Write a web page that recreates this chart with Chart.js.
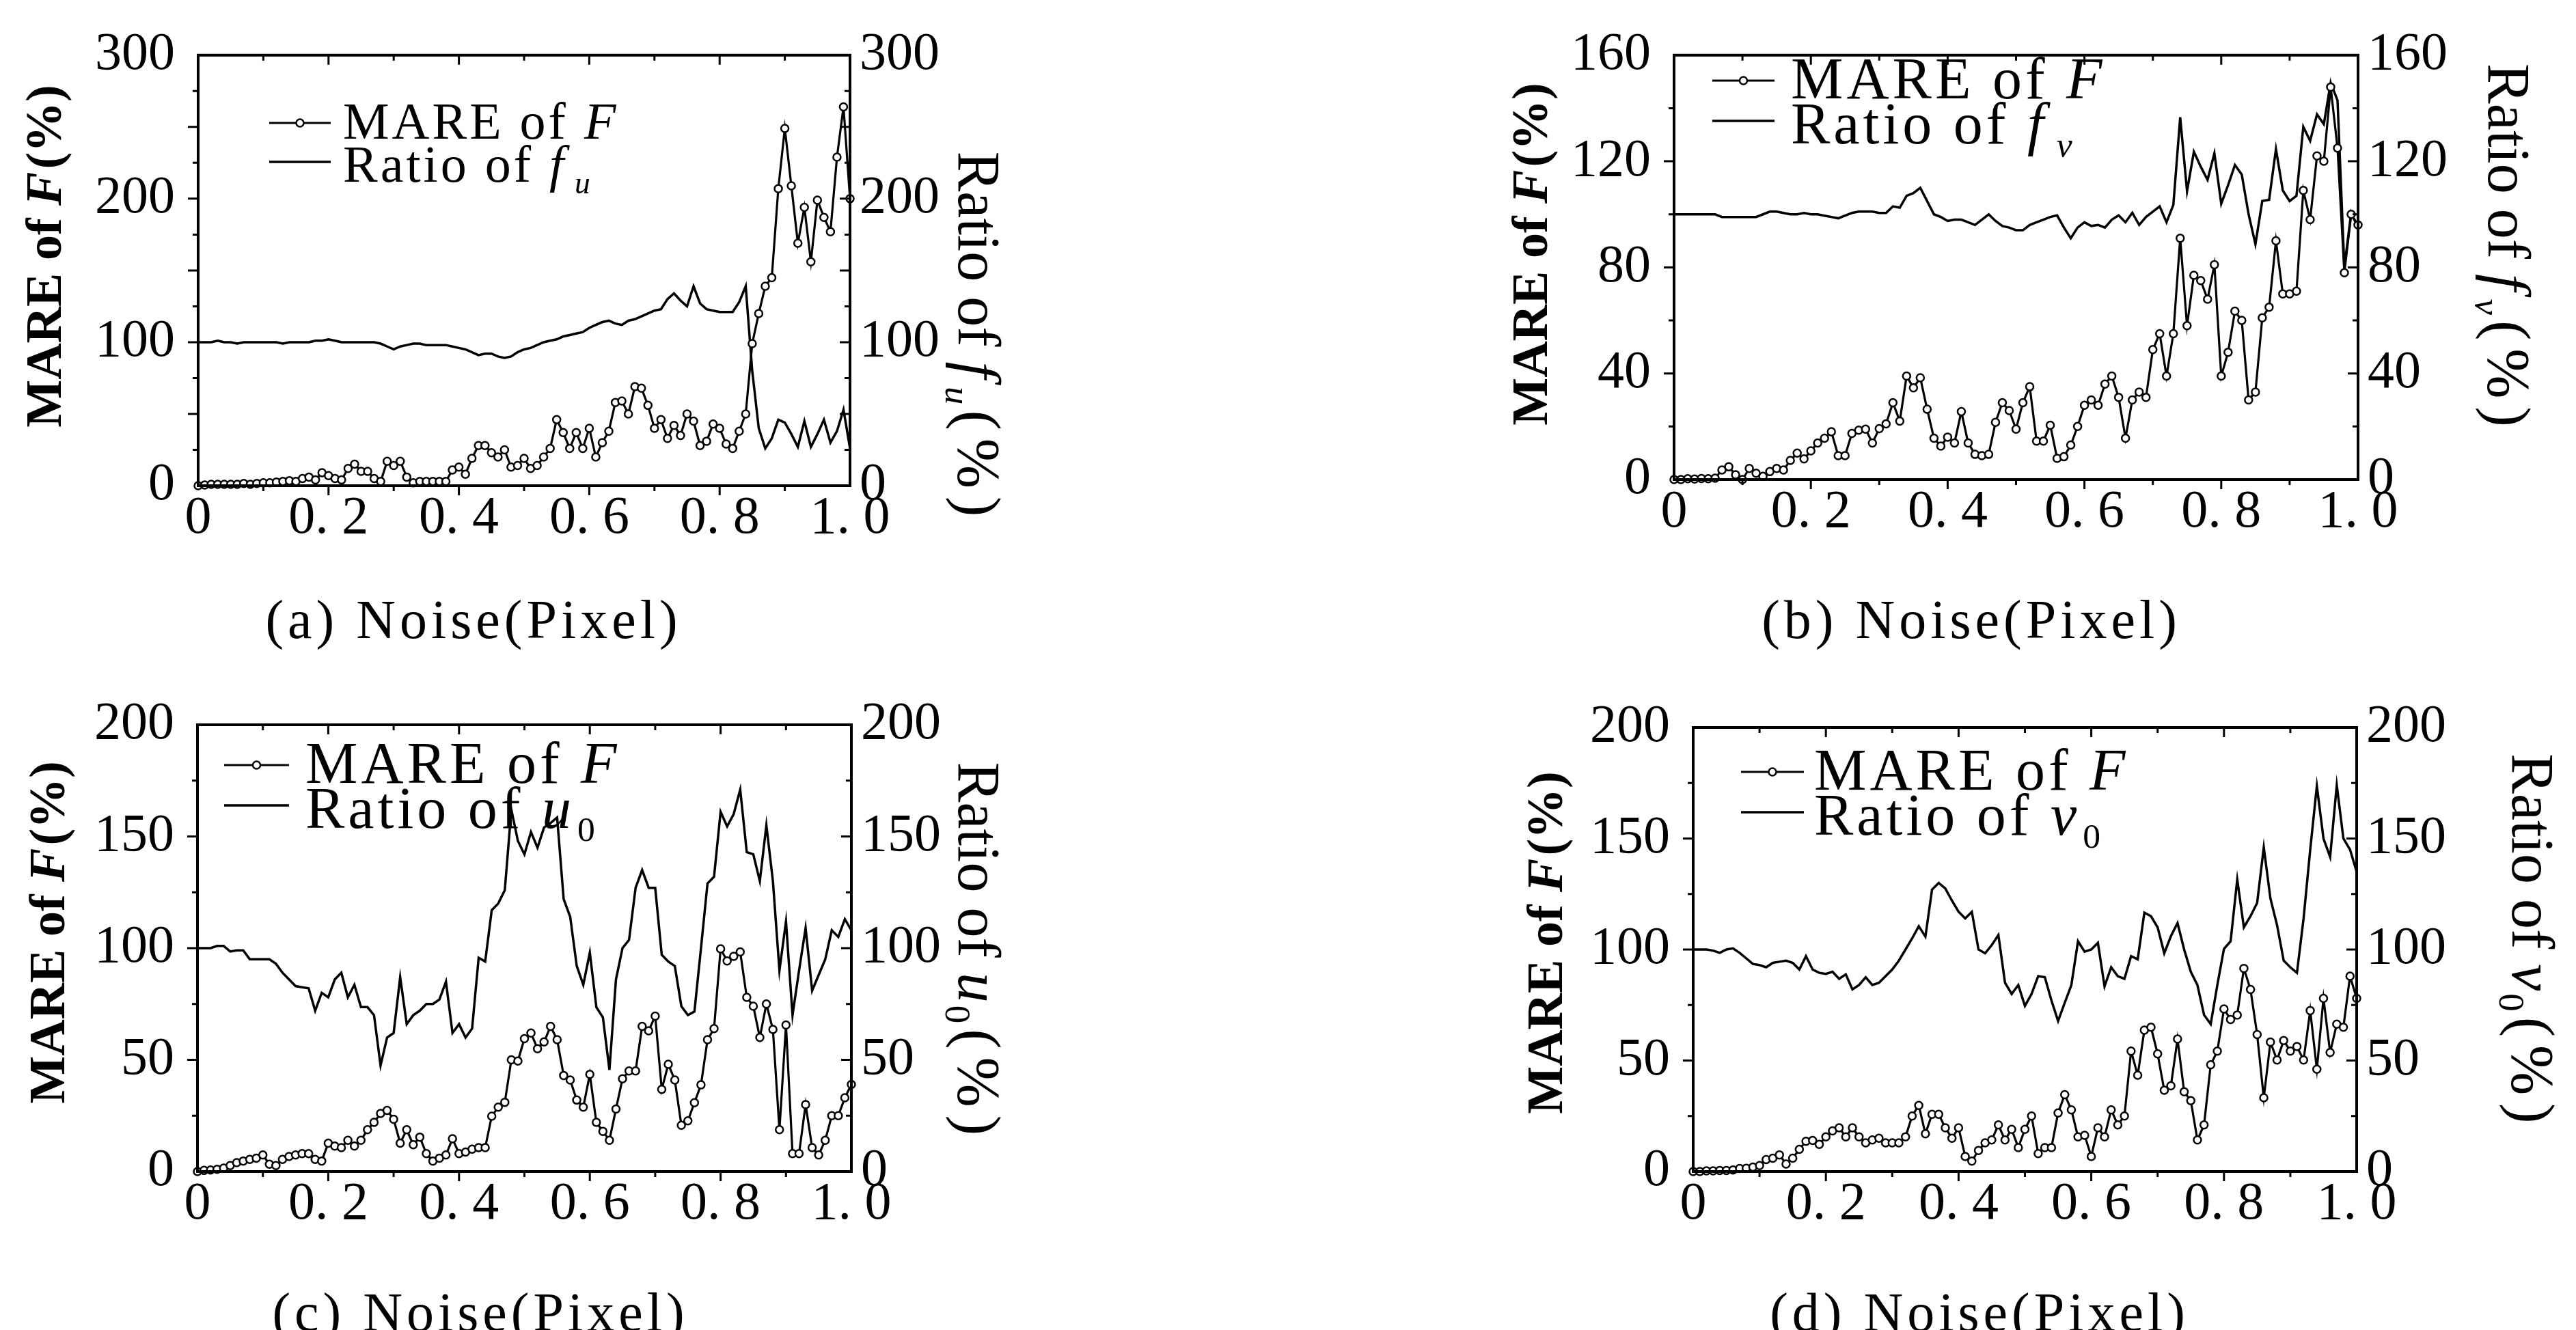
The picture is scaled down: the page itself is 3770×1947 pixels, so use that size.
<!DOCTYPE html>
<html><head><meta charset="utf-8">
<script src="https://cdn.jsdelivr.net/npm/chart.js@4.4.0/dist/chart.umd.min.js"></script>
<style>
html,body{margin:0;padding:0;background:#fff;width:3770px;height:1947px;overflow:hidden;}
canvas{position:absolute;display:block;}
</style></head><body>
<canvas id="ca" width="1885" height="973" style="left:0;top:0;width:1885px;height:973px"></canvas>
<canvas id="cb" width="1885" height="973" style="left:1885px;top:0;width:1885px;height:973px"></canvas>
<canvas id="cc" width="1885" height="974" style="left:0;top:973px;width:1885px;height:974px"></canvas>
<canvas id="cd" width="1885" height="974" style="left:1885px;top:973px;width:1885px;height:974px"></canvas>
<script>
// ---------------- data ----------------
const NOISE = [0,0.01,0.02,0.03,0.04,0.05,0.06,0.07,0.08,0.09,
0.10,0.11,0.12,0.13,0.14,0.15,0.16,0.17,0.18,0.19,
0.20,0.21,0.22,0.23,0.24,0.25,0.26,0.27,0.28,0.29,
0.30,0.31,0.32,0.33,0.34,0.35,0.36,0.37,0.38,0.39,
0.40,0.41,0.42,0.43,0.44,0.45,0.46,0.47,0.48,0.49,
0.50,0.51,0.52,0.53,0.54,0.55,0.56,0.57,0.58,0.59,
0.60,0.61,0.62,0.63,0.64,0.65,0.66,0.67,0.68,0.69,
0.70,0.71,0.72,0.73,0.74,0.75,0.76,0.77,0.78,0.79,
0.80,0.81,0.82,0.83,0.84,0.85,0.86,0.87,0.88,0.89,
0.90,0.91,0.92,0.93,0.94,0.95,0.96,0.97,0.98,0.99,
1.00];
const X_TICK_LABELS = ['0','0. 2','0. 4','0. 6','0. 8','1. 0'];

const MARE_A = [0,0.5,1,1,1,1,1,1.5,1,1.5, 2,2,2.5,3,3.5,3,5,6,4,9, 7,5,4,12,15,10,10,5,3,17,
14,17,6,2,3,3,3,3,3,11, 13,8,19,28,28,23,20,25,13,14, 19,12,14,20,26,46,37,26,37,26,
40,20,30,38,58,59,50,69,68,56, 40,46,33,42,35,50,45,28,31,43, 40,29,26,38,50,99,120,139,145,207,
249,209,169,194,156,199,187,177,229,264, 200];
const RATIO_A = [100,100,100,101,100,100,99,100,100,100, 100,100,100,99,100,100,100,100,101,101,
102,101,100,100,100,100,100,100,99,97, 95,97,98,99,99,98,98,98,98,97, 96,95,93,91,92,92,90,89,90,93,
95,96,98,100,101,102,104,105,106,107, 110,112,114,115,113,112,115,116,118,120,
122,123,130,134,129,125,139,127,123,122, 121,121,121,128,139,80,40,26,33,46,
44,36,27,45,27,36,46,30,38,53, 26];

const MARE_B = [0,0,0.3,0.2,0.4,0.3,0.5,3.6,4.8,1.8, 0,4.2,2.4,1.2,3,4.2,3.6,7.2,10,7.8,
10.8,13.8,15.6,18,9,9,17.4,18.6,19,13.8, 19.2,21,29,22,39,34.6,38.4,26.5,15.6,12.6,
16,13.8,25.6,13.8,9.5,9,9.5,21.6,29,26, 19,29,35,14.5,14.5,20.5,8,8.6,13,20,
28,30,28,36,39,31,15.6,30,33,31, 49,55,39,55,91,58,77,75,68,81,
39,48,63.5,60,30,33,61,65,90,70, 70,71,109,98,122,120,148,125,78,100, 96];
const RATIO_B = [100,100,100,100,100,100,100,99,99,99, 99,99,99,100,101,101,100.5,100,100,100.5,
100,100,99.5,99,98.5,99.5,100.5,101,101,101, 100.5,100.5,103,102.5,107,108,110,105,100,99,
97.5,98,98,97,96,98,100,97.5,95.6,95, 94,94,96,97,98,99,99.6,95,91,95,
97,95.6,96,95,98,99.6,97,100.6,96,99, 101,103,97,103.6,136.6,108.7,123.6,118,113,123,
104,111,118.6,115,100,88.7,105,105.5,124.6,109, 105,107,133,127.7,137.7,134,149.6,143,80,100.6, 95];

const MARE_C = [0,0.5,0.7,1,1.5,2.7,4,4.7,5.4,6, 7.4,3.3,2.7,5.4,6.7,7.4,8,8,5.4,4.7,
12.7,11.4,10.7,14,11.4,14,18.7,22,26,27.4, 23.4,12.7,18.7,12,15.4,8,4.7,6,7.4,14.7,
8,8.7,10,10.7,10.7,24.8,28.8,31,50,49.5, 59.5,62,55,58,65,59,43,41,32,28.8,
43.5,22,18,14,28,41.5,45,45,65,63, 69.6,36.8,48,41,20.7,22.7,30.8,38.8,59,64,
99.7,94.3,96.3,98.3,78,74,60,75,63.6,18.7, 65.6,8,8,30,10.7,7.4,14,25,25,33, 39];
const RATIO_C = [100,100,100,101,101,98.5,99,99,95,95, 95,95,93,89,86,83,82.5,82,72,80,
78,86,89,78,83.6,73.6,73.6,70,47.5,60, 62,87,66,70,72,75,75,77,85,62,
66,60,64,95.7,94,117,120,126,162,148, 142,152,145,154,156,158.5,122,114,92,83.6,
98,73.6,69,45.5,86,100,103.7,127,135,127, 127,97,94,92,74,70,71.6,100,129,132,
161,154.5,160,171,143,142,130,155,130,90, 112,70,90,109,81,88,95,108,105,113, 108];

const MARE_D = [0,0,0.3,0.3,0.5,0.5,0.7,1.4,1.5,2, 2.7,5.4,6,7.5,3.4,6,10,13.6,14,12.2,
15.6,18.3,19.7,15.6,19.7,15.6,12.9,14.2,15,12.9, 12.9,12.9,15.6,25,29.8,17,25.8,25.8,19.7,15,
19.7,6.8,4.7,9.5,12.9,14.2,21,14.2,19,10.8, 19,25,8.1,10.8,10.8,26.4,34.6,27.8,15.6,16.3,
6.8,19.7,15.6,27.8,21,25,54.2,43.4,63.7,65, 53,36.6,38.6,59.7,35.9,31.9,14.2,21,48.1,54.2,
73.2,68.5,70.5,91.5,82,61.7,33.2,58.3,50.2,59, 54.2,56.3,50.2,72.5,46.1,78,53.6,66.4,65,88, 78];
const RATIO_D = [100,100,100,99.5,98.5,100,100.5,98.5,96,93.5, 93,92,94,94.5,95,94,91,97,91,89.5,
89,90,86.8,88.8,82,84,87.5,84,85,88, 91,95,100,105,110.5,105.8,127,130,127.5,122,
117,114,117,100,98.3,102,106.5,85,80,84, 74.6,80,88,87.5,77,67.8,76,84,103.7,99,
100,103,83.4,92,88,86.8,97,95.6,116.6,115, 110,98.3,106,111.9,100,90,84,70.5,66.4,84,
100.3,103.7,131.5,110,115,121,146,123,111,95, 92,89.5,114,145,173.6,150,141.7,174,150,145, 135];

// ---------------- drawing helpers ----------------
const FONT = "'Liberation Serif','Times New Roman',serif";
function fontStr(p, size){ return (p.italic?'italic ':'') + (p.bold?'bold ':'') + size + 'px ' + FONT; }
function drawRich(ctx, parts, cx, cy, rot, size, align, baseShift, lsAll){
  ctx.save();
  let total = 0;
  const segs = parts.map(p=>{
    const s = size*(p.scale||1);
    const ls = (p.ls!==undefined ? p.ls : (lsAll||0));
    ctx.font = fontStr(p, s);
    ctx.letterSpacing = ls+'px';
    const w = ctx.measureText(p.t).width + (p.pre||0) + (p.post||0);
    total += w;
    return {p, s, w, ls};
  });
  ctx.translate(cx, cy); ctx.rotate(rot);
  let x = align==='left' ? 0 : -total/2;
  const base = baseShift===undefined ? size*0.33 : baseShift;
  ctx.fillStyle = '#000'; ctx.textBaseline = 'alphabetic'; ctx.textAlign = 'left';
  for (const g of segs){
    ctx.font = fontStr(g.p, g.s);
    ctx.letterSpacing = g.ls+'px';
    ctx.fillText(g.p.t, x + (g.p.pre||0), base + (g.p.dy||0)*size);
    x += g.w;
  }
  ctx.restore();
}

const LEFT_TITLE = [{t:'MARE of ',bold:true},{t:'F',bold:true,italic:true},{t:'(%)',bold:true,pre:4}];

const panels = [
 {id:'ca', ox:0, oy:0, L:290, R:1244, T:54, B:711, ymax:300, step:100, tMaj:50, tMin:25,
  mare:MARE_A, ratio:RATIO_A,
  legend:{x0:394,x1:484,tx:502,b1:203,b2:266, fs:76, ls:4,
    row1:[{t:'MARE of '},{t:'F',italic:true}],
    row2:[{t:'Ratio of '},{t:'f',italic:true},{t:'u',italic:true,scale:0.6,dy:0.22,pre:12}]},
  lt:{cx:65, cy:375},
  rt:{cx:1432, cy:495, parts:[{t:'Ratio of '},{t:'f',italic:true},{t:'u',italic:true,scale:0.6,dy:0.22,pre:12},{t:'(%)',ls:12,pre:8}]},
  cap:{cx:693, cy:908, t:'(a) Noise(Pixel)'}},
 {id:'cb', ox:1885, oy:0, L:2450, R:3451, T:51, B:702, ymax:160, step:40, tMaj:40, tMin:20,
  mare:MARE_B, ratio:RATIO_B,
  legend:{x0:2506,x1:2597,tx:2621,b1:144,b2:210, fs:86, ls:5,
    row1:[{t:'MARE of '},{t:'F',italic:true}],
    row2:[{t:'Ratio of '},{t:'f',italic:true},{t:'v',italic:true,scale:0.6,dy:0.22,pre:14}]},
  lt:{cx:2240, cy:372},
  rt:{cx:3671, cy:365, parts:[{t:'Ratio of '},{t:'f',italic:true},{t:'v',italic:true,scale:0.6,dy:0.22,pre:12},{t:'(%)',ls:12,pre:8}]},
  cap:{cx:2885, cy:908, t:'(b) Noise(Pixel)'}},
 {id:'cc', ox:0, oy:973, L:289, R:1246, T:1061, B:1715, ymax:200, step:50, tMaj:50, tMin:25,
  mare:MARE_C, ratio:RATIO_C,
  legend:{x0:328,x1:423,tx:447,b1:1146,b2:1212, fs:86, ls:5,
    row1:[{t:'MARE of '},{t:'F',italic:true}],
    row2:[{t:'Ratio of '},{t:'u',italic:true},{t:'0',scale:0.6,dy:0.22,pre:4}]},
  lt:{cx:70, cy:1365},
  rt:{cx:1432, cy:1395, parts:[{t:'Ratio of '},{t:'u',italic:true},{t:'0',scale:0.6,dy:0.22,pre:4},{t:'(%)',ls:12,pre:8}]},
  cap:{cx:703, cy:1922, t:'(c) Noise(Pixel)'}},
 {id:'cd', ox:1885, oy:973, L:2478, R:3449, T:1065, B:1715, ymax:200, step:50, tMaj:50, tMin:25,
  mare:MARE_D, ratio:RATIO_D,
  legend:{x0:2548,x1:2640,tx:2655,b1:1156,b2:1222, fs:86, ls:5,
    row1:[{t:'MARE of '},{t:'F',italic:true}],
    row2:[{t:'Ratio of '},{t:'v',italic:true},{t:'0',scale:0.6,dy:0.22,pre:4}]},
  lt:{cx:2262, cy:1380},
  rt:{cx:3706, cy:1380, parts:[{t:'Ratio of '},{t:'v',italic:true},{t:'0',scale:0.6,dy:0.22,pre:4},{t:'(%)',ls:12,pre:8}]},
  cap:{cx:2897, cy:1922, t:'(d) Noise(Pixel)'}}
];

const TICK_FONT = {family:'Liberation Serif', size:78};

function makePanel(P){
  const cv = document.getElementById(P.id);
  const W = cv.width, H = cv.height;
  const Lw = P.L - P.ox, Rw = W - (P.R - P.ox), Tp = P.T - P.oy, Bh = H - (P.B - P.oy);
  const decor = {
    id:'decor_'+P.id,
    afterDraw(chart){
      const ctx = chart.ctx, a = chart.chartArea;
      const xs = chart.scales.x, ys = chart.scales.y;
      ctx.save();
      ctx.strokeStyle = '#000'; ctx.lineWidth = 4; ctx.lineCap = 'butt';
      ctx.strokeRect(a.left, a.top, a.right-a.left, a.bottom-a.top);
      ctx.lineWidth = 3;
      // x ticks (every 0.1) pointing downward on top and bottom axes
      for (let k=1;k<10;k++){
        const v = k/10, px = xs.getPixelForValue(v), len = (k%2===0)?14:8;
        ctx.beginPath(); ctx.moveTo(px,a.top); ctx.lineTo(px,a.top+len);
        ctx.moveTo(px,a.bottom); ctx.lineTo(px,a.bottom+len); ctx.stroke();
      }
      // y ticks pointing left on both sides
      for (let v=P.tMin; v<P.ymax; v+=P.tMin){
        const py = ys.getPixelForValue(v), len = (v%P.tMaj===0)?15:8;
        ctx.beginPath(); ctx.moveTo(a.left-len,py); ctx.lineTo(a.left,py);
        ctx.moveTo(a.right-len,py); ctx.lineTo(a.right,py); ctx.stroke();
      }
      // legend (styles taken from the datasets)
      const lg = P.legend, ox = P.ox, oy = P.oy;
      const ds0 = chart.data.datasets[0], ds1 = chart.data.datasets[1];
      const s1 = lg.b1 - Math.round(lg.fs*0.3) - oy, s2 = lg.b2 - Math.round(lg.fs*0.38) - oy;
      ctx.strokeStyle = ds0.borderColor; ctx.lineWidth = ds0.borderWidth;
      ctx.beginPath(); ctx.moveTo(lg.x0-ox, s1); ctx.lineTo(lg.x1-ox, s1); ctx.stroke();
      ctx.strokeStyle = ds1.borderColor; ctx.lineWidth = ds1.borderWidth;
      ctx.beginPath(); ctx.moveTo(lg.x0-ox, s2); ctx.lineTo(lg.x1-ox, s2); ctx.stroke();
      ctx.beginPath(); ctx.arc((lg.x0+lg.x1)/2-ox, s1, ds0.pointRadius, 0, Math.PI*2);
      ctx.fillStyle = ds0.pointBackgroundColor; ctx.fill();
      ctx.strokeStyle = ds0.pointBorderColor; ctx.lineWidth = ds0.pointBorderWidth; ctx.stroke();
      drawRich(ctx, lg.row1, lg.tx-ox, lg.b1-oy, 0, lg.fs, 'left', 0, lg.ls);
      drawRich(ctx, lg.row2, lg.tx-ox, lg.b2-oy, 0, lg.fs, 'left', 0, lg.ls);
      // axis titles
      drawRich(ctx, LEFT_TITLE, P.lt.cx-ox, P.lt.cy-oy, -Math.PI/2, 74);
      drawRich(ctx, P.rt.parts, P.rt.cx-ox, P.rt.cy-oy, Math.PI/2, 88);
      // caption
      drawRich(ctx, [{t:P.cap.t, ls:6}], P.cap.cx-ox, P.cap.cy-oy, 0, 80);
      ctx.restore();
    }
  };
  const yTicks = {stepSize:P.step, font:TICK_FONT, color:'#000', callback:v=>String(v)};
  new Chart(cv, {
    type:'line',
    data:{datasets:[
      {label:'MARE of F', data:NOISE.map((x,i)=>({x:x, y:P.mare[i]})), yAxisID:'y',
       borderColor:'#000', borderWidth:3.2, tension:0, clip:false,
       pointRadius:5.5, pointBorderWidth:2.5, pointBackgroundColor:'#fff', pointBorderColor:'#000', pointStyle:'circle'},
      {label:'Ratio', data:NOISE.map((x,i)=>({x:x, y:P.ratio[i]})), yAxisID:'y1',
       borderColor:'#000', borderWidth:3.5, tension:0, clip:false, pointRadius:0}
    ]},
    options:{
      responsive:false, animation:false, devicePixelRatio:1,
      layout:{padding:{top:Tp, left:0, right:0, bottom:0}},
      plugins:{legend:{display:false}, tooltip:{enabled:false}},
      scales:{
        x:{type:'linear', min:0, max:1,
           grid:{display:false, drawTicks:false}, border:{display:false},
           ticks:{stepSize:0.2, autoSkip:false, maxRotation:0, font:TICK_FONT, color:'#000', padding:2,
                  callback:v=>X_TICK_LABELS[Math.round(v*5)]},
           afterFit:s=>{s.height=Bh;}},
        y:{type:'linear', position:'left', min:0, max:P.ymax,
           grid:{display:false, drawTicks:false}, border:{display:false},
           ticks:Object.assign({padding:34}, yTicks),
           afterFit:s=>{s.width=Lw;}},
        y1:{type:'linear', position:'right', min:0, max:P.ymax,
           grid:{display:false, drawTicks:false}, border:{display:false},
           ticks:Object.assign({padding:14}, yTicks),
           afterFit:s=>{s.width=Rw;}}
      }
    },
    plugins:[decor]
  });
}
panels.forEach(makePanel);
</script>
</body></html>
